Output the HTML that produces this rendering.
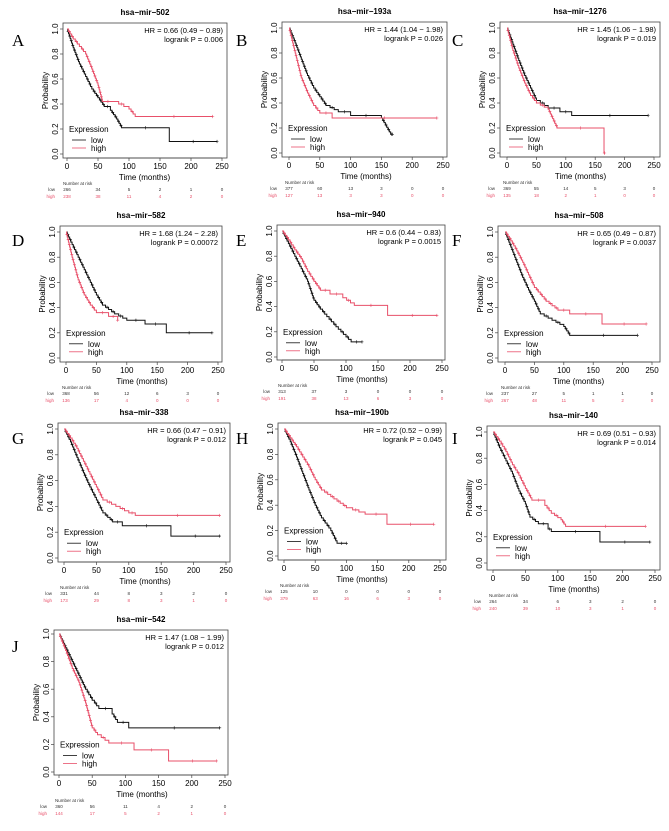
<!DOCTYPE html>
<html><head><meta charset="utf-8"><style>
html,body{margin:0;padding:0;background:#fff}
svg{display:block;font-family:"Liberation Sans",sans-serif}
</style></head><body>
<svg id="fig" width="669" height="831" viewBox="0 0 669 831" xmlns="http://www.w3.org/2000/svg"></svg>
<script>
const panelLetters=["A","B","C","D","E","F","G","H","I","J"];
const panelTitles=["hsa\u2212mir\u2212502","hsa\u2212mir\u2212193a","hsa\u2212mir\u22121276","hsa\u2212mir\u2212582","hsa\u2212mir\u2212940","hsa\u2212mir\u2212508","hsa\u2212mir\u2212338","hsa\u2212mir\u2212190b","hsa\u2212mir\u2212140","hsa\u2212mir\u2212542"];
const hrTexts=["0.66 (0.49 \u2212 0.89)","1.44 (1.04 \u2212 1.98)","1.45 (1.06 \u2212 1.98)","1.68 (1.24 \u2212 2.28)","0.6 (0.44 \u2212 0.83)","0.65 (0.49 \u2212 0.87)","0.66 (0.47 \u2212 0.91)","0.72 (0.52 \u2212 0.99)","0.69 (0.51 \u2212 0.93)","1.47 (1.08 \u2212 1.99)"];
const pTexts=["0.006","0.026","0.019","0.00072","0.0015","0.0037","0.012","0.045","0.014","0.012"];
const riskLow=[[266,34,5,2,1,0],[377,60,13,3,0,0],[369,55,14,5,3,0],[368,56,12,6,3,0],[313,37,3,0,0,0],[237,27,5,1,1,0],[331,44,8,3,2,0],[125,10,0,0,0,0],[264,34,6,3,2,0],[360,56,11,4,2,0]];
const riskHigh=[[238,38,11,4,2,0],[127,13,3,3,0,0],[135,18,2,1,0,0],[136,17,4,0,0,0],[191,38,13,6,3,0],[267,48,11,5,2,0],[173,29,8,3,1,0],[379,63,16,6,3,0],[240,39,10,3,1,0],[144,17,5,2,1,0]];
const xTicks=[0,50,100,150,200,250];
const yTicks=[0,0.2,0.4,0.6,0.8,1.0];
const lowCurves=[
[[0,1],[10,0.85],[20,0.72],[30,0.62],[40,0.52],[50,0.45],[60,0.38],[70,0.35],[80,0.28],[88,0.21],[165,0.1],[242,0.1]],
[[0,1],[10,0.88],[20,0.75],[30,0.62],[40,0.52],[50,0.45],[60,0.38],[80,0.33],[100,0.3],[150,0.28],[165,0.15],[168,0.15]],
[[0,1],[10,0.87],[20,0.74],[30,0.62],[40,0.52],[50,0.42],[70,0.36],[90,0.33],[110,0.3],[240,0.3]],
[[0,1],[10,0.9],[20,0.8],[30,0.7],[40,0.6],[50,0.5],[60,0.42],[80,0.35],[100,0.3],[130,0.27],[165,0.2],[240,0.2]],
[[0,1],[10,0.9],[20,0.8],[30,0.7],[40,0.6],[50,0.45],[60,0.38],[70,0.32],[88,0.22],[108,0.12],[125,0.12]],
[[0,1],[10,0.88],[20,0.76],[30,0.64],[40,0.54],[50,0.45],[60,0.35],[80,0.3],[100,0.25],[110,0.18],[225,0.18]],
[[0,1],[10,0.9],[20,0.78],[30,0.66],[40,0.55],[50,0.45],[60,0.35],[75,0.28],[90,0.25],[165,0.17],[240,0.17]],
[[0,1],[10,0.9],[20,0.78],[30,0.65],[40,0.52],[50,0.4],[60,0.3],[75,0.2],[85,0.1],[100,0.1]],
[[0,1],[10,0.88],[20,0.78],[30,0.68],[40,0.55],[50,0.45],[57,0.35],[70,0.3],[85,0.26],[90,0.24],[165,0.16],[242,0.16]],
[[0,1],[10,0.9],[20,0.8],[30,0.7],[40,0.6],[50,0.52],[60,0.46],[80,0.42],[88,0.36],[105,0.32],[242,0.32]]];
const highCurves=[
[[0,1],[10,0.92],[20,0.86],[30,0.8],[40,0.68],[50,0.55],[57,0.42],[75,0.42],[100,0.36],[110,0.3],[235,0.3]],
[[0,1],[10,0.8],[20,0.6],[30,0.48],[40,0.38],[50,0.32],[70,0.28],[240,0.28]],
[[0,1],[10,0.82],[20,0.68],[30,0.56],[40,0.46],[50,0.4],[70,0.35],[85,0.2],[165,0.0],[166,0.0]],
[[0,1],[10,0.8],[20,0.62],[30,0.5],[40,0.42],[50,0.36],[70,0.33],[85,0.3]],
[[0,1],[10,0.93],[20,0.85],[30,0.78],[40,0.68],[50,0.6],[60,0.53],[75,0.5],[95,0.47],[113,0.41],[165,0.33],[242,0.33]],
[[0,1],[10,0.93],[20,0.85],[30,0.76],[40,0.66],[50,0.56],[70,0.45],[90,0.38],[110,0.35],[165,0.27],[240,0.27]],
[[0,1],[10,0.93],[20,0.85],[30,0.75],[40,0.65],[50,0.55],[60,0.45],[80,0.4],[100,0.35],[110,0.33],[240,0.33]],
[[0,1],[10,0.93],[20,0.86],[30,0.78],[40,0.7],[50,0.6],[60,0.52],[80,0.45],[100,0.38],[130,0.33],[165,0.25],[240,0.25]],
[[0,1],[10,0.93],[20,0.85],[30,0.75],[40,0.67],[50,0.57],[60,0.48],[80,0.44],[90,0.38],[105,0.33],[112,0.28],[235,0.28]],
[[0,1],[10,0.88],[20,0.75],[30,0.65],[40,0.5],[50,0.32],[58,0.27],[75,0.21],[113,0.16],[165,0.08],[237,0.08]]];

const boxes=[
{L:63,R:227,T:23,B:158,x0:67,x1:222,y1:29,y0:154,lx:12,ly:46},
{L:282,R:447,T:22,B:157,x0:289,x1:443,y1:28,y0:153,lx:236,ly:46},
{L:500,R:660,T:22,B:157,x0:507,x1:654,y1:28,y0:153,lx:452,ly:46},
{L:60,R:222,T:226,B:362,x0:66,x1:218,y1:232,y0:358,lx:12,ly:246},
{L:277,R:445,T:225,B:360,x0:282,x1:442,y1:231,y0:357,lx:236,ly:246},
{L:498,R:660,T:226,B:362,x0:505,x1:652,y1:232,y0:358,lx:452,ly:246},
{L:58,R:230,T:423,B:562,x0:64,x1:226,y1:429,y0:558,lx:12,ly:444},
{L:278,R:446,T:423,B:560,x0:284,x1:440,y1:429,y0:556,lx:236,ly:444},
{L:487,R:660,T:426,B:570,x0:493,x1:655,y1:432,y0:563,lx:452,ly:444},
{L:54,R:228,T:630,B:775,x0:59,x1:225,y1:634,y0:772,lx:12,ly:652}];

const NS="http://www.w3.org/2000/svg";
const svg=document.getElementById('fig');
function mk(tag,attrs,parent,text){const e=document.createElementNS(NS,tag);for(const k in attrs)e.setAttribute(k,attrs[k]);if(text!==undefined)e.textContent=text;(parent||svg).appendChild(e);return e;}
const RED="#e8506a";

panelLetters.forEach((letter,i)=>{
  const b=boxes[i];
  const g=mk('g',{});
  
  
  const sx=t=>b.x0+(b.x1-b.x0)*t/250;
  const sy=p=>b.y0+(b.y1-b.y0)*p;
  const lt=mk('text',{x:b.lx,y:b.ly,'font-family':'"Liberation Serif",serif','font-size':17},g,letter);
  
  
  const tt=mk('text',{x:(b.L+b.R)/2,y:b.T-8,'font-size':8,'font-weight':'bold','text-anchor':'middle'},g,panelTitles[i]);
  
  
  const box=mk('rect',{x:b.L,y:b.T,width:b.R-b.L,height:b.B-b.T,fill:'none',stroke:'#444','stroke-width':0.8},g);
  
  
  mk('line',{x1:sx(0),x2:sx(250),y1:b.B,y2:b.B,stroke:'#444','stroke-width':0.7},g);
  xTicks.forEach(t=>{
    mk('line',{x1:sx(t),x2:sx(t),y1:b.B,y2:b.B+3,stroke:'#444','stroke-width':0.7},g);
    const xl=mk('text',{x:sx(t),y:b.B+11,'font-size':8,'text-anchor':'middle'},g,String(t));
    
    
  });
  const xt=mk('text',{x:(b.x0+b.x1)/2,y:b.B+22,'font-size':8,'text-anchor':'middle'},g,'Time (months)');
  
  
  yTicks.forEach(p=>{
    mk('line',{x1:b.L-3,x2:b.L,y1:sy(p),y2:sy(p),stroke:'#444','stroke-width':0.7},g);
    const yl=mk('text',{x:0,y:0,'font-size':8,'text-anchor':'middle',transform:`translate(${b.L-5},${sy(p)}) rotate(-90)`},g,p.toFixed(1));
    
    
  });
  const yt=mk('text',{x:0,y:0,'font-size':8,'text-anchor':'middle',transform:`translate(${b.L-15},${(b.T+b.B)/2}) rotate(-90)`},g,'Probability');
  
  
  const hr=mk('text',{x:b.R-4,y:b.T+10,'font-size':7.5,'text-anchor':'end'},g,'HR = '+hrTexts[i]);
  
  
  const pv=mk('text',{x:b.R-4,y:b.T+19,'font-size':7.5,'text-anchor':'end'},g,'logrank P = '+pTexts[i]);
  
  
  [[lowCurves[i],'#111','low'],[highCurves[i],RED,'high']].forEach(([pts,col,nm])=>{
    let d=`M${sx(pts[0][0])},${sy(pts[0][1])}`;
    const marks=[];
    for(let k=1;k<pts.length;k++){
      const ta=pts[k-1][0],tb=pts[k][0],pa=pts[k-1][1],pb=pts[k][1];
      const dx=sx(tb)-sx(ta), dy=Math.abs(sy(pb)-sy(pa));
      // render a long drop over a short interval as a fine staircase (many small events)
      const n=(dx<20&&dy>6)?Math.max(1,Math.round(dy/2.5)):1;
      for(let s=1;s<=n;s++){
        const tx=ta+(tb-ta)*s/n, py=pa+(pb-pa)*s/n;
        d+=` H${sx(tx)} V${sy(py)}`;
        if(n>1&&s%2===0)marks.push([sx(ta+(tb-ta)*(s-0.5)/n),sy(pa+(pb-pa)*(s-1)/n)]);
      }
      if(n===1)marks.push([sx((ta+tb)/2),sy(pa)]);
    }
    const last=pts[pts.length-1];
    marks.push([sx(last[0]),sy(last[1])]);
    const path=mk('path',{d:d,fill:'none',stroke:col,'stroke-width':1},g);
    
    
    let md='';
    marks.forEach(([cx,cy])=>{md+=`M${cx-1.5},${cy}H${cx+1.5}M${cx},${cy-1.6}V${cy+1.6}`;});
    const c=mk('path',{d:md,stroke:col,'stroke-width':0.6,fill:'none'},g);
    
    
  });
  const lgx=b.L+6, lgy=sy(0.2)+3;
  const lg=mk('g',{},g);
  
  
  mk('text',{x:lgx,y:lgy,'font-size':8},lg,'Expression');
  mk('line',{x1:lgx+3,x2:lgx+17,y1:lgy+8,y2:lgy+8,stroke:'#111','stroke-width':0.8},lg);
  mk('text',{x:lgx+22,y:lgy+11,'font-size':8},lg,'low');
  mk('line',{x1:lgx+3,x2:lgx+17,y1:lgy+16,y2:lgy+16,stroke:RED,'stroke-width':0.8},lg);
  mk('text',{x:lgx+22,y:lgy+19,'font-size':8},lg,'high');
  const rt=mk('g',{},g);
  
  
  mk('text',{x:b.x0-4,y:b.B+27,'font-size':4.5,fill:'#333'},rt,'Number at risk');
  mk('text',{x:b.x0-12,y:b.B+33,'font-size':4.5,'text-anchor':'end',fill:'#333'},rt,'low');
  mk('text',{x:b.x0-12,y:b.B+40,'font-size':4.5,'text-anchor':'end',fill:RED},rt,'high');
  xTicks.forEach((t,k)=>{
    mk('text',{x:sx(t),y:b.B+33,'font-size':4.5,'text-anchor':'middle',fill:'#333'},rt,String(riskLow[i][k]));
    mk('text',{x:sx(t),y:b.B+40,'font-size':4.5,'text-anchor':'middle',fill:RED},rt,String(riskHigh[i][k]));
  });
});
</script>
</body></html>
